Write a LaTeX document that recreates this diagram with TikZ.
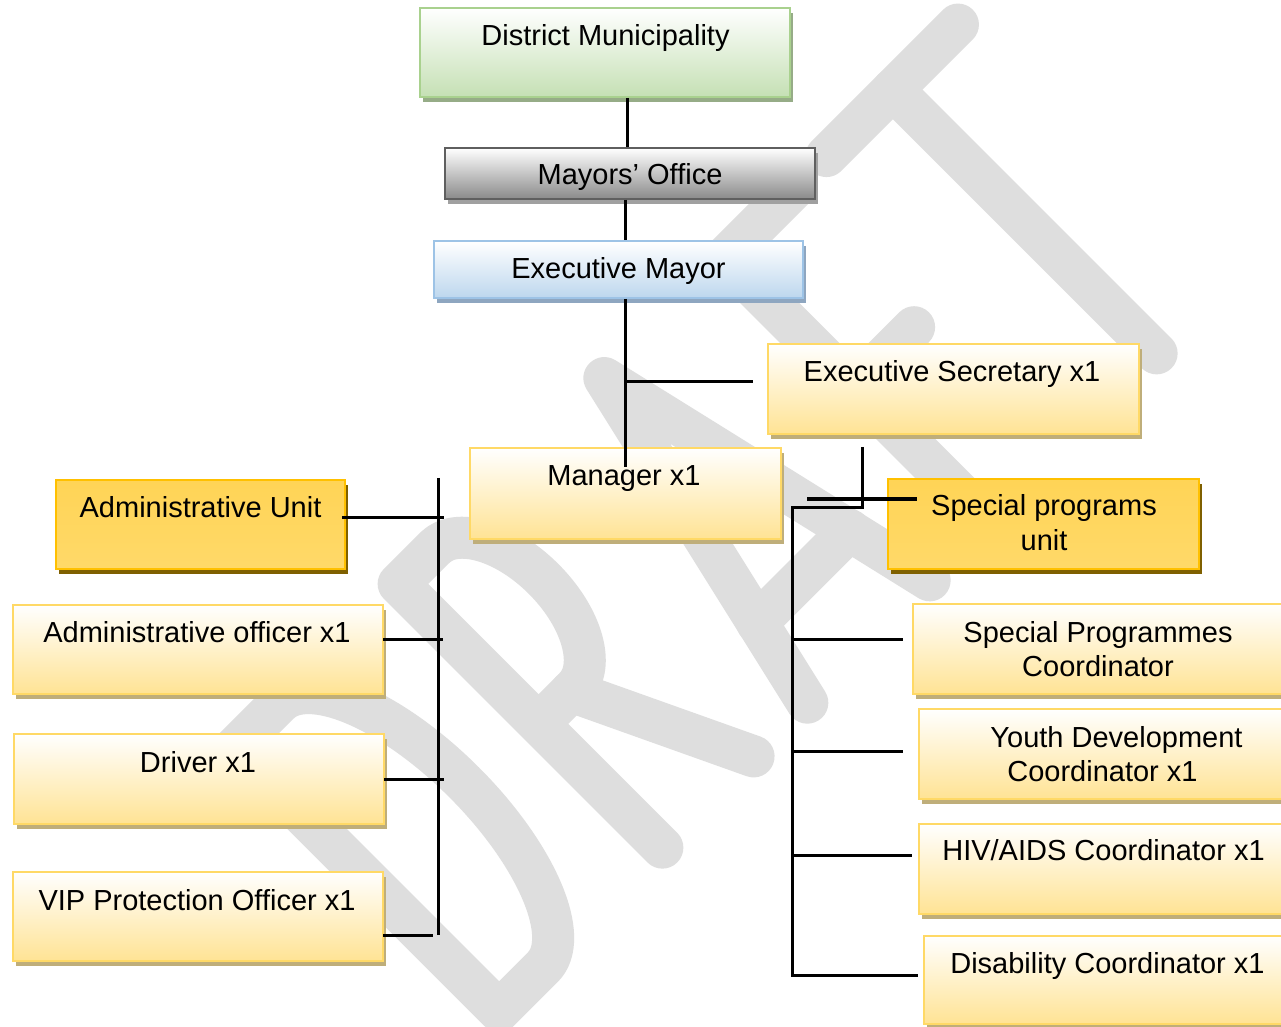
\documentclass[tikz,border=0pt]{standalone}
\usepackage{fontspec}
\setmainfont{Liberation Sans}
\usetikzlibrary{shadows,calc}
\definecolor{ybord}{RGB}{255,217,102}
\definecolor{yfill}{RGB}{255,227,148}
\definecolor{yshad}{RGB}{191,174,122}
\definecolor{obord}{RGB}{255,192,0}
\definecolor{otop}{RGB}{255,212,86}
\definecolor{omid}{RGB}{255,192,0}
\definecolor{obot}{RGB}{255,217,105}
\definecolor{oshad}{RGB}{127,96,0}
\definecolor{gbord}{RGB}{169,209,142}
\definecolor{gfill}{RGB}{197,224,180}
\definecolor{gshad}{RGB}{150,172,135}
\definecolor{kbord}{RGB}{95,95,95}
\definecolor{kfill}{RGB}{138,138,138}
\definecolor{kshad}{RGB}{160,160,160}
\definecolor{bbord}{RGB}{157,195,230}
\definecolor{bfill}{RGB}{189,215,238}
\definecolor{bshad}{RGB}{142,166,192}
\definecolor{wmark}{RGB}{222,222,222}
\begin{document}
\begin{tikzpicture}[x=0.5pt,y=-0.5pt,
  box/.style={rectangle, anchor=north west, inner sep=0pt, outer sep=0pt, line width=1.2pt},
  shad/.style={drop shadow={shadow xshift=1.5pt, shadow yshift=-2.5pt, fill=#1, opacity=1, draw=none}},
  ybox/.style={box, draw=ybord, top color=white, bottom color=yfill, shad=yshad},
  obox/.style={box, draw=obord, top color=otop, middle color=omid, bottom color=obot, shad=oshad},
  gbox/.style={box, draw=gbord, top color=white, bottom color=gfill, shad=gshad},
  kbox/.style={box, draw=kbord, top color=white, bottom color=kfill, shad=kshad},
  bbox/.style={box, draw=bbord, top color=white, bottom color=bfill, shad=bshad},
  txt/.style={anchor=base, inner sep=0pt, font=\fontsize{14.5}{17}\selectfont},
  conn/.style={line width=1.5pt, black},
  wm/.style={line width=21pt, draw=wmark, line cap=round, line join=round}
]
\useasboundingbox (0,0) rectangle (1281,1027);
\fill[white] (0,0) rectangle (1281,1027);

% watermark
\begin{scope}
\clip (0,0) rectangle (1281,1027);
\begin{scope}[shift={(755,755)}, rotate=45, y=0.5pt]
  % D
  \draw[wm] (-300,0) arc[start angle=-90, end angle=90, x radius=75, y radius=186.5]
            -- (-362,373) -- (-362,0) -- cycle;
  % R
  \draw[wm] (-131,0) -- (-131,373) -- (-80,373)
            arc[start angle=90, end angle=-90, x radius=55, y radius=99] -- (-131,175);
  \draw[wm] (-85,175) -- (-2,0);
  % A
  \draw[wm] (74,0) -- (160,373) -- (247,0);
  \draw[wm] (95,92) -- (226,92);
  % F
  \draw[wm] (330,0) -- (330,373) -- (432,373);
  \draw[wm] (330,190) -- (415,190);
  % T
  \draw[wm] (474,373) -- (660,373);
  \draw[wm] (568,373) -- (568,0);
\end{scope}
\end{scope}

% boxes
\node[gbox, minimum width=185pt, minimum height=44.5pt] (dm) at (420,8) {};
\node[kbox, minimum width=185pt, minimum height=25.5pt] (mo) at (445,148) {};
\node[bbox, minimum width=184.5pt, minimum height=28.5pt] (em) at (434,241) {};
\node[ybox, minimum width=185.5pt, minimum height=45pt] (es) at (768,344) {};
\node[ybox, minimum width=155.5pt, minimum height=45.5pt] (mg) at (470,448) {};
\node[obox, minimum width=144.5pt, minimum height=44.5pt] (au) at (56,480) {};
\node[obox, minimum width=155.5pt, minimum height=45pt] (sp) at (888,479) {};
\node[ybox, minimum width=185pt, minimum height=44.5pt] (ao) at (13,605) {};
\node[ybox, minimum width=185pt, minimum height=45pt] (dr) at (14,734) {};
\node[ybox, minimum width=185pt, minimum height=44.5pt] (vip) at (13,872) {};
\node[ybox, minimum width=185.5pt, minimum height=45pt] (spc) at (913,604) {};
\node[ybox, minimum width=185.5pt, minimum height=45pt] (yd) at (919,709) {};
\node[ybox, minimum width=185.5pt, minimum height=45pt] (hiv) at (919,824) {};
\node[ybox, minimum width=184pt, minimum height=44pt] (dis) at (924,936) {};

% connectors
\draw[conn] ($(dm.south)+(22,1)$) -- ($(mo.north)+(-3,-1)$);
\draw[conn] ($(mo.south)+(-5,1)$) -- ($(em.north)+(6.5,-1)$);
\draw[conn] ($(em.south)+(6.5,1)$) -- ($(mg.north)+(-0.5,19)$);
\coordinate (j1) at (625,382);
\draw[conn] (j1) -- ($(es.west)+(-15,-7)$);

\coordinate (rt) at (792,507);
\coordinate (rb) at (792,975);
\draw[conn] ($(es.south)+(-91.5,13)$) |- (rt) -- (rb) -- ($(dis.west)+(-6,-5)$);
\coordinate (sl) at (807,499);
\draw[conn, line width=1.8pt] (sl) -- ($(sp.west)+(29,-25)$);
\coordinate (r1) at (792,639);
\coordinate (r2) at (792,751);
\coordinate (r3) at (792,855);
\draw[conn] (r1) -- ($(spc.west)+(-10,-10)$);
\draw[conn] (r2) -- ($(yd.west)+(-16,-3)$);
\draw[conn] (r3) -- ($(hiv.west)+(-7,-14)$);

\coordinate (lt) at (438,478);
\coordinate (lb) at (438,935);
\draw[conn] (lt) -- (lb);
\coordinate (l1) at (444,517);
\coordinate (l2) at (443,639);
\coordinate (l3) at (444,779);
\coordinate (l4) at (433,935);
\draw[conn] ($(au.east)+(-3,-7.5)$) -- (l1);
\draw[conn] ($(ao.east)+(0,-10.5)$) -- (l2);
\draw[conn] (dr.east) -- (l3);
\draw[conn] ($(vip.east)+(0,18.5)$) -- (l4);

% texts
\node[txt] (tdm) at (605.5,46) {District Municipality};
\node[txt] (tmo) at (630,185) {Mayors’ Office};
\node[txt] (tem) at (618.5,279) {Executive Mayor};
\node[txt] (tes) at (952,382) {Executive Secretary x1};
\node[txt] (tmg) at (624,486) {Manager x1};
\node[txt] (tau) at (200.5,517) {Administrative Unit};
\node[txt] (tsp1) at (1044,516) {Special programs};
\node[txt] (tsp2) at (1044,550) {unit};
\node[txt] (tao) at (197,642) {Administrative officer x1};
\node[txt] (tdr) at (198,772) {Driver x1};
\node[txt] (tvip) at (197,910) {VIP Protection Officer x1};
\node[txt] (tspc1) at (1098,642) {Special Programmes};
\node[txt] (tspc2) at (1098,676) {Coordinator};
\node[txt] (tyd1) at (1116.5,747) {Youth Development};
\node[txt] (tyd2) at (1102.5,781) {Coordinator x1};
\node[txt] (thiv) at (1103.5,860) {HIV/AIDS Coordinator x1};
\node[txt] (tdis) at (1107.5,973) {Disability Coordinator x1};
\end{tikzpicture}
\end{document}
